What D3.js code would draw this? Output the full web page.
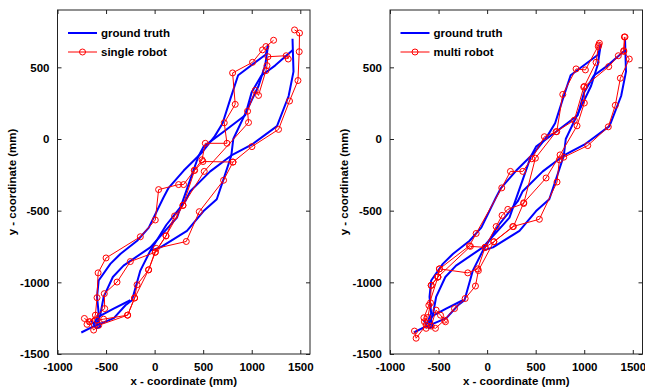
<!DOCTYPE html>
<html>
<head>
<meta charset="utf-8">
<script src="https://cdn.jsdelivr.net/npm/d3@7"></script>
<style>
  body { margin: 0; background: #fff; }
  text { font-family: "Liberation Sans", Arial, sans-serif; font-weight: bold; }
</style>
</head>
<body>
<div id="canvas"></div>
<script>
"use strict"

/***********************************
 DATA (mm)
************************************/
let xTicks = [-1000, -500, 0, 500, 1000, 1500];
let yTicks = [-1500, -1000, -500, 0, 500];

// ground truth, drawn as several strands of the same run
let groundTruth = [
    [[1170, 660], [1145, 590], [860, 445], [780, 280], [700, 110], [620, 20], [480, -100], [300, -220], [140, -345], [90, -410], [-60, -618], [-180, -710], [-350, -800], [-456, -871], [-576, -987], [-593, -1102], [-576, -1217], [-620, -1290]],
    [[1170, 660], [1140, 520], [1070, 370], [950, 200], [810, 0], [790, -115]],
    [[1420, 620], [1240, 512], [1100, 443], [1000, 327], [933, 166], [710, 51], [504, -53], [450, -122], [385, -249], [230, -549], [-44, -756], [-320, -883], [-430, -963], [-525, -1102], [-560, -1230], [-600, -1290]],
    [[1420, 700], [1430, 470], [1380, 300], [1260, 90], [1000, -40], [790, -115], [710, -280], [640, -420], [504, -503], [333, -641], [60, -756], [-44, -779]],
    [[-755, -1350], [-640, -1310], [-560, -1290], [-420, -1250], [-300, -1160], [-233, -1125], [-147, -918], [-44, -779], [120, -600], [316, -434], [367, -364], [573, -226], [790, -115]],
    [[-600, -1300], [-576, -1240], [-422, -1183], [-250, -1125]],
    [[-620, -1290], [-650, -1270], [-600, -1320], [-560, -1310], [-580, -1250]]
];

let singleRobot = [
    [[1441, 761], [1492, 739], [1489, 609], [1476, 408], [1389, 265], [1276, 67], [1002, -53], [807, -161], [710, -288], [460, -507], [326, -715], [17, -763], [-62, -913], [-181, -1017], [-206, -1109], [-278, -1229], [-525, -1257], [-593, -1264]],
    [[1225, 689], [1146, 645], [1111, 622], [1008, 535], [803, 461], [830, 242], [717, 113], [745, -30], [522, -30], [488, -145], [408, -219], [298, -318], [247, -318], [41, -353], [7, -565], [-147, -682], [-500, -830], [-582, -934], [-593, -1107], [-610, -1229], [-669, -1275], [-723, -1252]],
    [[1376, 558], [1355, 581], [1167, 574], [1157, 512], [1146, 477], [1070, 304], [1036, 339], [957, 194], [967, 115], [511, -226], [292, -463], [206, -537], [117, -676], [7, -790], [-250, -855], [-387, -998], [-518, -1079], [-514, -1183], [-696, -1293]],
    [[-669, -1275], [-628, -1333], [-576, -1300], [-278, -1229], [-206, -1109], [-62, -913], [7, -790], [117, -676], [292, -463], [412, -219], [498, -157], [807, -161]]
];

let multiRobot = [
    [[1413, 712], [1407, 611], [1464, 558], [1372, 424], [1320, 235], [1248, 85], [1036, -46], [789, -127], [744, -145], [720, -300], [538, -560], [264, -611], [69, -717], [-21, -756], [-96, -906], [-199, -934], [-491, -906], [-507, -963], [-576, -1021]],
    [[1156, 668], [1149, 655], [1012, 482], [916, 489], [779, 311], [717, 51], [590, 16], [460, -138], [367, -226], [240, -226], [151, -341], [-113, -659], [-182, -745], [-491, -906], [-507, -963], [-576, -1021], [-583, -1143], [-610, -1245], [-645, -1275]],
    [[1145, 645], [1122, 535], [1001, 367], [1001, 251], [926, 92], [751, -111], [607, -272], [377, -445], [271, -611], [69, -717], [-90, -918], [-120, -1026], [-226, -1113], [-336, -1183], [-439, -1264], [-532, -1321], [-628, -1298], [-731, -1390], [-748, -1340]],
    [[1420, 712], [1407, 616], [1351, 581], [1252, 505], [995, 362], [898, 131], [710, 51], [497, -134], [377, -450], [213, -491], [154, -533], [93, -611], [-21, -756], [-172, -749], [-507, -963], [-600, -1160], [-651, -1247], [-628, -1321], [-576, -1305], [-525, -1194], [-480, -1229], [-429, -1275]]
];

let truthLabel = "ground truth";
let panelLabels = ["single robot", "multi robot"];

/***********************************
 CONFIGURATION VARIABLES
************************************/
let svgWidth = 645;
let svgHeight = 387;
let plotTop = 10;
let plotBottom = 354;
let panelLefts = [57.5, 390];
let panelWidth = 252.5;
let tickLen = 4;
let fontSize = "11.5px";

let svg = d3.select("#canvas")
    .append("svg")
    .attr("width", svgWidth)
    .attr("height", svgHeight);

let yScale = d3.scaleLinear()
    .domain([-1500, 900])
    .range([plotBottom, plotTop]);

// plain hyphen and no thousands separator, like the original
let tickText = d => String(d);

function drawPanel(left, estimate, estLabel) {
    let xScale = d3.scaleLinear()
        .domain([-1000, 1600])
        .range([left, left + panelWidth]);
    let right = left + panelWidth;
    let g = svg.append("g");

    let line = d3.line()
        .x(d => xScale(d[0]))
        .y(d => yScale(d[1]));

    // ground truth
    g.selectAll(".truth")
        .data(groundTruth)
        .join("path")
        .attr("class", "truth")
        .attr("d", line)
        .attr("fill", "none")
        .attr("stroke", "#0000ff")
        .attr("stroke-width", 2)
        .attr("stroke-linejoin", "round");

    // estimate
    g.selectAll(".est")
        .data(estimate)
        .join("path")
        .attr("class", "est")
        .attr("d", line)
        .attr("fill", "none")
        .attr("stroke", "#ff0000")
        .attr("stroke-width", 1);

    g.selectAll(".mark")
        .data(estimate.flat())
        .join("circle")
        .attr("class", "mark")
        .attr("cx", d => xScale(d[0]))
        .attr("cy", d => yScale(d[1]))
        .attr("r", 3)
        .attr("fill", "none")
        .attr("stroke", "#ff0000")
        .attr("stroke-width", 1);

    // box
    g.append("rect")
        .attr("x", left)
        .attr("y", plotTop)
        .attr("width", panelWidth)
        .attr("height", plotBottom - plotTop)
        .attr("fill", "none")
        .attr("stroke", "#222")
        .attr("stroke-width", 1);

    // axes with inward ticks, matlab style
    let xAxis = d3.axisBottom(xScale).tickValues(xTicks).tickFormat(tickText)
        .tickSizeInner(-tickLen).tickSizeOuter(0).tickPadding(9);
    let xg = g.append("g")
        .attr("transform", `translate(0, ${plotBottom})`)
        .call(xAxis);
    let xTop = g.append("g")
        .attr("transform", `translate(0, ${plotTop})`)
        .call(d3.axisTop(xScale).tickValues(xTicks).tickSizeInner(-tickLen).tickSizeOuter(0).tickFormat(""));

    let yAxis = d3.axisLeft(yScale).tickValues(yTicks).tickFormat(tickText)
        .tickSizeInner(-tickLen).tickSizeOuter(0).tickPadding(8);
    let yg = g.append("g")
        .attr("transform", `translate(${left}, 0)`)
        .call(yAxis);
    let yRight = g.append("g")
        .attr("transform", `translate(${right}, 0)`)
        .call(d3.axisRight(yScale).tickValues(yTicks).tickSizeInner(-tickLen).tickSizeOuter(0).tickFormat(""));

    [xg, xTop, yg, yRight].forEach(a => {
        a.select(".domain").remove();
        a.selectAll("line").attr("stroke", "#222");
        a.selectAll("text")
            .attr("fill", "#000")
            .style("font-size", fontSize)
            .style("font-family", "'Liberation Sans', Arial, sans-serif")
            .style("font-weight", "bold");
    });

    // axis labels
    g.append("text")
        .attr("x", left + panelWidth / 2)
        .attr("y", 385)
        .attr("text-anchor", "middle")
        .style("font-size", fontSize)
        .text("x - coordinate (mm)");

    g.append("text")
        .attr("transform", `translate(${left - 42}, ${(plotTop + plotBottom) / 2}) rotate(-90)`)
        .attr("text-anchor", "middle")
        .style("font-size", fontSize)
        .text("y - coordinate (mm)");

    // legend
    let lx = left + 10.5;
    g.append("line")
        .attr("x1", lx).attr("x2", lx + 29)
        .attr("y1", 33).attr("y2", 33)
        .attr("stroke", "#0000ff").attr("stroke-width", 2);
    g.append("line")
        .attr("x1", lx).attr("x2", lx + 29)
        .attr("y1", 52).attr("y2", 52)
        .attr("stroke", "#ff0000").attr("stroke-width", 1);
    g.append("circle")
        .attr("cx", lx + 14.5).attr("cy", 52).attr("r", 3)
        .attr("fill", "none").attr("stroke", "#ff0000");
    g.append("text")
        .attr("x", lx + 33).attr("y", 37)
        .style("font-size", fontSize)
        .text(truthLabel);
    g.append("text")
        .attr("x", lx + 33).attr("y", 56)
        .style("font-size", fontSize)
        .text(estLabel);
}

drawPanel(panelLefts[0], singleRobot, panelLabels[0]);
drawPanel(panelLefts[1], multiRobot, panelLabels[1]);
</script>
</body>
</html>
